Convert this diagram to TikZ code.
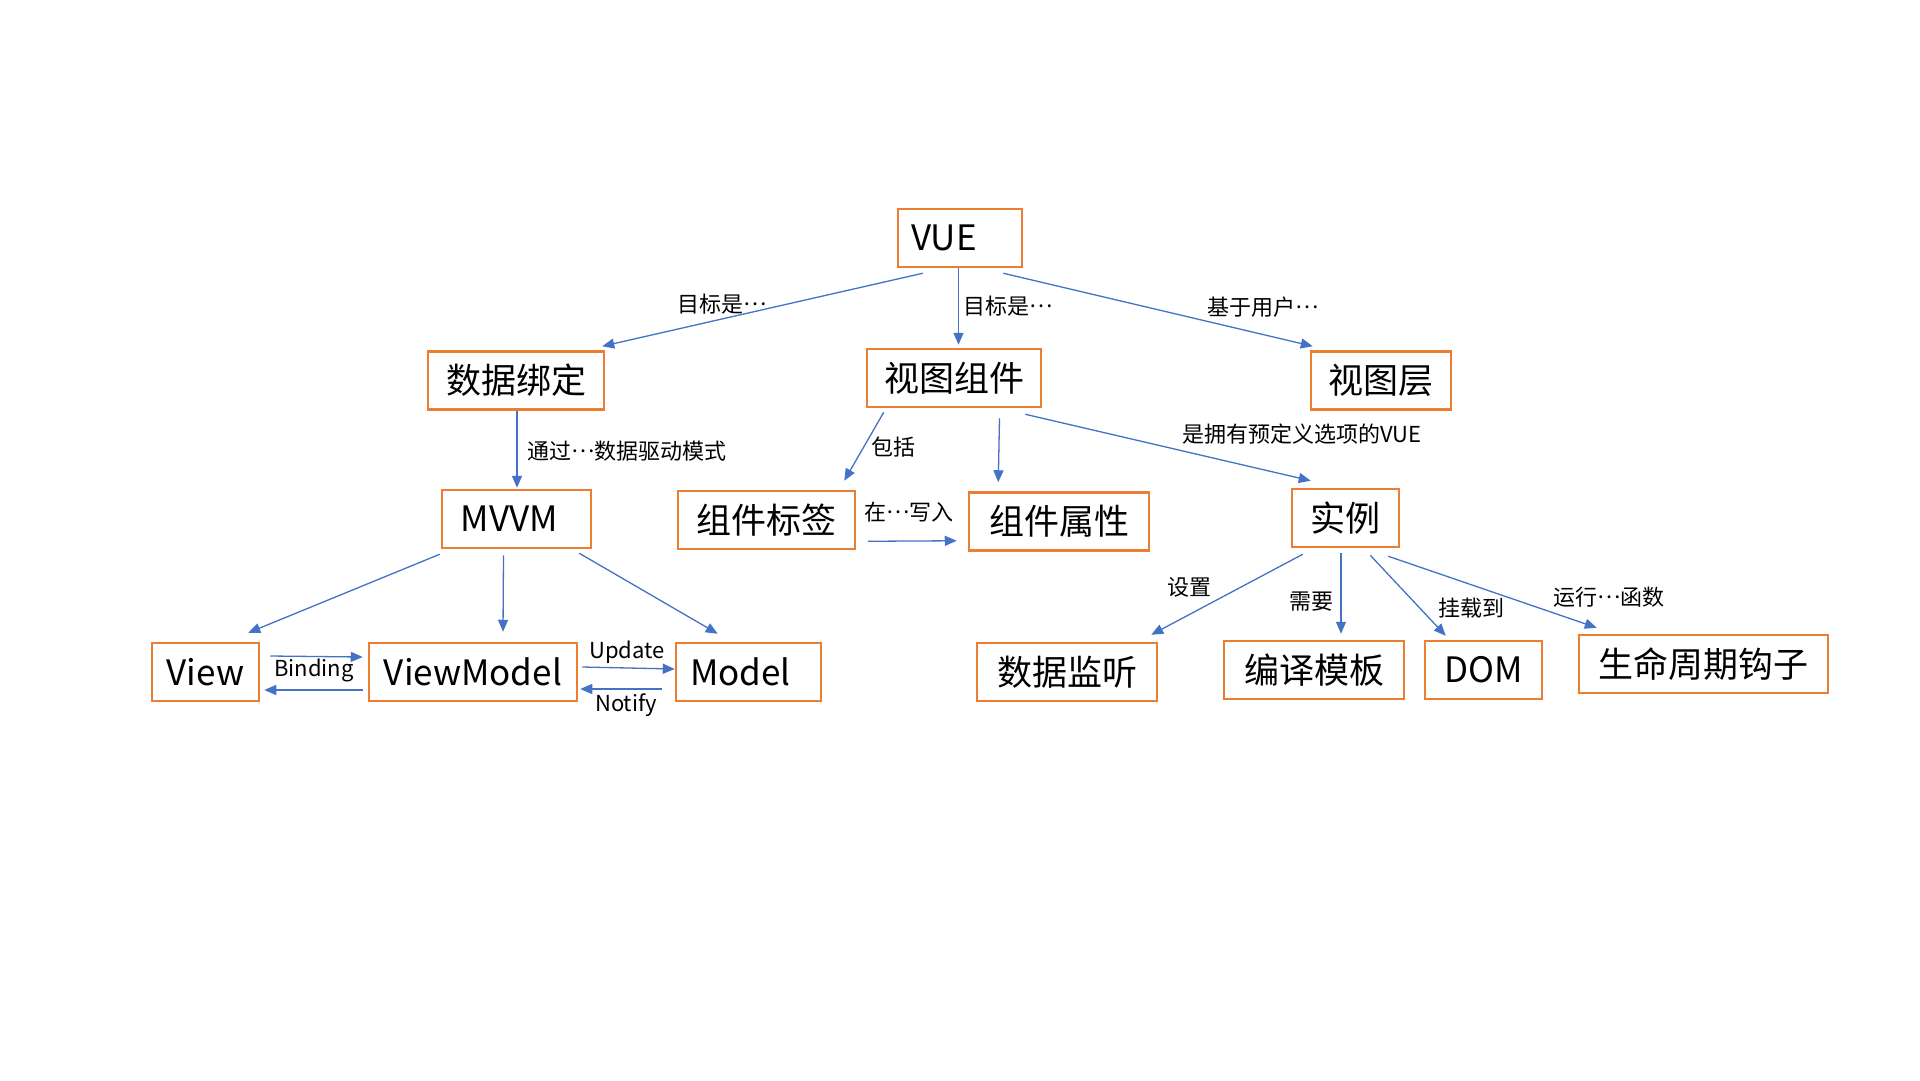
\documentclass[tikz,border=0pt]{standalone}
\usepackage{fontspec}
\setmainfont{Noto Sans CJK SC}
\usepackage{tikz}
\newcommand{\puntos}{\raisebox{.3em}{…}}
\newcommand{\hueco}[1]{\hspace{#1}\null}
\usetikzlibrary{arrows.meta, calc}
\definecolor{naranja}{HTML}{ED7D31}
\definecolor{azul}{HTML}{4472C4}
\tikzstyle{concepto} = [draw=naranja, line width=2.5pt, rectangle, minimum height=58pt, inner sep=0pt, font=\fontsize{35}{35}\selectfont]
\tikzstyle{flecha} = [draw=azul, line width=1.3pt, -{Triangle[length=12pt, width=10pt]}]
\tikzstyle{etiqueta} = [inner sep=0pt, font=\fontsize{22}{22}\selectfont]

\begin{document}
\begin{tikzpicture}[x=1pt, y=-1pt]
	\fill[white] (0,0) rectangle (1920,1080);
	\useasboundingbox (0,0) rectangle (1920,1080);
	% conceptos
	\node[concepto, minimum width=124pt] (vue) at (960,238) {VUE\hueco{32pt}};
	\node[concepto, minimum width=176pt] (binding) at (516,380.5) {数据绑定};
	\node[concepto, minimum width=174pt] (componente) at (954,378) {视图组件};
	\node[concepto, minimum width=140pt] (capa) at (1381,380.5) {视图层};
	\node[concepto, minimum width=149pt] (mvvm) at (516.5,519) {MVVM\hueco{14pt}};
	\node[concepto, minimum width=177pt] (tag) at (766.5,520) {组件标签};
	\node[concepto, minimum width=180pt] (prop) at (1059,521.5) {组件属性};
	\node[concepto, minimum width=107pt] (instancia) at (1345.5,518) {实例};
	\node[concepto, minimum width=107pt] (view) at (205.5,672) {View};
	\node[concepto, minimum width=208pt] (viewmodel) at (473,672) {ViewModel};
	\node[concepto, minimum width=145pt] (model) at (748.5,672) {Model\hueco{16pt}};
	\node[concepto, minimum width=180pt] (watch) at (1067,672) {数据监听};
	\node[concepto, minimum width=180pt] (plantilla) at (1314,670) {编译模板};
	\node[concepto, minimum width=117pt] (dom) at (1483.5,670) {DOM};
	\node[concepto, minimum width=249pt] (hooks) at (1703.5,664) {生命周期钩子};
	% etiquetas
	\node[etiqueta] (lobj1) at (722,304) {目标是\puntos};
	\node[etiqueta] (lobj2) at (1008,306) {目标是\puntos};
	\node[etiqueta] (luser) at (1263,307) {基于用户\puntos};
	\node[etiqueta] (ldriv) at (627,451) {通过\puntos 数据驱动模式};
	\node[etiqueta] (lincl) at (893,447) {包括};
	\node[etiqueta] (lpre) at (1302,434) {是拥有预定义选项的VUE};
	\node[etiqueta] (lwrite) at (909,512) {在\puntos 写入};
	\node[etiqueta] (lbind) at (314,670) {Binding};
	\node[etiqueta] (lupd) at (627,652) {Update};
	\node[etiqueta] (lnot) at (626,705) {Notify};
	\node[etiqueta] (lset) at (1189,587) {设置};
	\node[etiqueta] (lneed) at (1311,602) {需要};
	\node[etiqueta] (lmount) at (1471,608) {挂载到};
	\node[etiqueta] (lrun) at (1609,597) {运行\puntos 函数};
	% relaciones
	\draw[flecha] ($(vue.south west)+(26,5)$) -- ($(binding.north east)+(-3,-4)$);
	\draw[flecha] ($(vue.south)+(-1.5,0)$) -- ($(componente.north)+(4.5,-3)$);
	\draw[flecha] ($(vue.south east)+(-20,5)$) -- ($(capa.north west)+(3,-4)$);
	\draw[flecha] ($(binding.south)+(1,0)$) -- ($(mvvm.north)+(0.5,-1)$);
	\draw[flecha] ($(componente.south west)+(18,4)$) -- ($(tag.north east)+(-12,-9)$);
	\draw[flecha] ($(componente.south)+(45.5,10)$) -- ($(prop.north west)+(30.5,-9)$);
	\draw[flecha] ($(componente.south east)+(-17,6)$) -- ($(instancia.north west)+(20,-7)$);
	\draw[flecha] ($(tag.south east)+(11.5,-9)$) -- ($(prop.south west)+(-11,-11)$);
	\draw[flecha] ($(mvvm.south west)+(-1,5)$) -- ($(view.north east)+(-12,-9)$);
	\draw[flecha] ($(mvvm.south)+(-13,6)$) -- ($(viewmodel.north)+(30,-10)$);
	\draw[flecha] ($(mvvm.south east)+(-13,4)$) -- ($(model.north west)+(43,-8)$);
	\draw[flecha] ($(view.east)+(10,-16)$) -- ($(viewmodel.west)+(-5,-15)$);
	\draw[flecha] ($(viewmodel.west)+(-5,18)$) -- ($(view.east)+(4,18)$);
	\draw[flecha] ($(viewmodel.east)+(4,-5)$) -- ($(model.west)+(0,-3)$);
	\draw[flecha] ($(model.west)+(-13,17)$) -- ($(viewmodel.east)+(2,17)$);
	\draw[flecha] ($(instancia.south west)+(12,6)$) -- ($(watch.north east)+(-7,-7)$);
	\draw[flecha] ($(instancia.south)+(-4.5,5)$) -- ($(plantilla.north)+(27,-6)$);
	\draw[flecha] ($(instancia.south east)+(-30,7)$) -- ($(dom.north west)+(22,-4)$);
	\draw[flecha] ($(instancia.south east)+(-12,8)$) -- ($(hooks.north west)+(19,-6)$);
\end{tikzpicture}
\end{document}
